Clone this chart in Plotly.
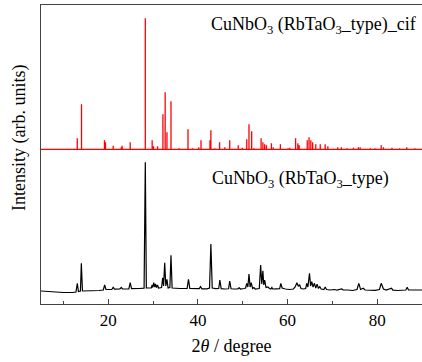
import plotly.graph_objects as go

# ---- reference (cif) stick pattern: 2theta positions and intensities (arb.) ----
cif_2theta = [13.09, 14.04, 19.16, 19.38, 21.1, 22.9, 23.1, 24.9, 28.27, 29.8, 30.1, 31.0,
              32.2, 32.7, 33.1, 34.0, 35.8, 37.8, 38.8, 40.2, 40.7, 42.7, 42.9, 43.75,
              44.85, 46.0, 47.1, 49.0, 49.9, 50.9, 51.4, 52.0, 52.5, 54.1, 54.5, 54.9,
              55.3, 56.4, 56.8, 58.4, 60.1, 60.5, 61.8, 62.3, 62.6, 64.4, 64.8, 65.2,
              65.6, 66.3, 67.3, 68.4, 69.0, 71.2, 72.0, 73.3, 74.7, 75.8, 76.2, 78.5,
              79.5, 80.9, 81.4, 83.3, 85.0, 86.6, 88.4]
cif_intensity = [11, 45, 9, 7, 3.5, 2, 3.5, 7, 131, 9, 3, 3,
                 35, 57, 17, 48, 1, 20, 1, 2, 9, 9, 19, 1,
                 7, 2, 9, 4, 1.5, 10, 25, 18, 1, 11, 7, 5,
                 4, 6, 2, 5, 1, 1.5, 11, 6, 4, 9, 12, 9,
                 7, 5, 5, 5, 3, 2, 2, 1, 1.5, 2, 2, 1,
                 1, 4, 2, 1.5, 1, 2, 1]
cif_offset = 154.7

# ---- measured pattern ----
exp_2theta = [5.0, 6.5, 8.0, 10.0, 12.0, 12.8, 13.1, 13.35, 13.8, 14.0, 14.25, 16.0, 18.0,
              18.9, 19.2, 19.5, 20.8, 21.1, 21.4, 22.6, 22.9, 23.2, 24.6, 24.9, 25.2,
              27.0, 28.0, 28.27, 28.5, 29.6, 29.8, 29.95, 30.15, 30.35, 30.55, 30.75,
              31.0, 31.2, 31.9, 32.15, 32.35, 32.6, 32.85, 33.1, 33.35, 33.75, 34.0,
              34.25, 35.0, 36.0, 37.6, 37.9, 38.2, 39.0, 40.3, 40.6, 40.9, 42.0, 42.6,
              42.9, 43.2, 44.0, 44.65, 44.9, 45.2, 46.0, 46.85, 47.1, 47.4, 48.0, 48.9,
              49.2, 49.5, 50.3, 50.65, 50.9, 51.15, 51.4, 51.65, 51.9, 52.2, 52.5, 52.8,
              53.7, 54.0, 54.25, 54.5, 54.7, 54.9, 55.2, 55.6, 56.0, 56.3, 56.5, 56.7,
              57.5, 58.25, 58.5, 58.8, 59.5, 60.5, 61.3, 61.7, 62.1, 62.4, 62.7, 63.0,
              63.5, 64.05, 64.3, 64.55, 64.9, 65.15, 65.4, 65.7, 66.0, 66.3, 66.6, 66.9,
              67.2, 67.5, 68.1, 68.4, 68.7, 69.5, 70.5, 71.0, 72.1, 72.4, 73.5, 74.5,
              75.5, 75.9, 76.3, 76.9, 77.3, 78.5, 79.5, 80.5, 80.9, 81.4, 82.0, 83.2,
              83.5, 84.5, 85.5, 86.4, 86.7, 87.0, 88.5, 90.0]
exp_intensity = [13, 12.5, 12, 11.5, 11.5, 12, 20.7, 12.5, 13, 40.7, 13, 13, 13.5,
                 14, 19, 14.5, 14.5, 16.7, 14.8, 15, 16.5, 15, 15.2, 21.3, 15.3,
                 15.5, 15.8, 141.7, 16, 16, 19, 16.5, 21.3, 17, 20, 16.5,
                 19, 16, 16.5, 26.3, 18, 41.3, 18, 24.7, 16, 16.5, 48.7,
                 16, 15.5, 15.5, 15.5, 24.7, 15.5, 15.2, 15.3, 17.3, 15.2, 15.2, 16,
                 60, 16, 15.3, 15.5, 24, 15.3, 15, 15.2, 23, 15.2, 15, 15.2,
                 16.3, 15, 15.5, 16, 20.7, 17, 30, 17, 21.3, 15.5, 16.5, 15,
                 15.5, 39, 20, 33.3, 19, 24, 16.5, 17, 15.5, 15, 16.5, 15,
                 15.2, 15.3, 20.7, 16, 15, 14.5, 15, 17, 21.3, 18, 19, 15.5,
                 15, 15.5, 20.7, 17, 30.7, 18, 22.3, 17, 20.7, 16, 19.7, 15.5,
                 17.3, 15, 14.5, 17, 14.5, 14, 14.5, 13.8, 15, 14, 14, 13.5,
                 14.5, 20.7, 14.5, 15.7, 14, 14, 13.7, 14.5, 20.7, 15, 14, 15.7,
                 13.8, 13.5, 14, 14, 16.7, 14, 14, 14]

x_range = [5, 90]
x_ticks = [20, 40, 60, 80]
x_minor = [10, 30, 50, 70, 90]

# build stick line for cif pattern
sx, sy = [x_range[0]], [cif_offset]
for p, h in zip(cif_2theta, cif_intensity):
    sx += [p, p, p]
    sy += [cif_offset, cif_offset + h, cif_offset]
sx.append(x_range[1])
sy.append(cif_offset)

fig = go.Figure()
fig.add_trace(go.Scatter(x=sx, y=sy, mode="lines",
                         line=dict(color="#ff0000", width=1.3), showlegend=False))
fig.add_trace(go.Scatter(x=exp_2theta, y=exp_intensity, mode="lines",
                         line=dict(color="#000000", width=1.2), showlegend=False))

font = "Liberation Serif"
fig.update_layout(
    width=422, height=362,
    margin=dict(l=41, r=0, t=5, b=58),
    paper_bgcolor="white", plot_bgcolor="white",
    font=dict(family=font, size=17, color="#000"),
    xaxis=dict(range=x_range, tickvals=x_ticks, ticks="inside", ticklen=5,
               tickcolor="#444", tickwidth=1,
               minor=dict(tickvals=x_minor, ticks="inside", ticklen=3,
                          tickcolor="#444", tickwidth=1),
               showgrid=False, zeroline=False, showline=True, linecolor="#444",
               linewidth=1.2, mirror=True,
               tickfont=dict(family=font, size=17, color="#000"),
               title=dict(text="2<i>θ</i> / degree", font=dict(family=font, size=18),
                          standoff=10)),
    yaxis=dict(range=[0, 299], showticklabels=False, ticks="", showgrid=False,
               zeroline=False, showline=True, linecolor="#444", linewidth=1.2),
    annotations=[
        dict(text="CuNbO<sub>3</sub> (RbTaO<sub>3</sub>_type)_cif", xref="paper", yref="paper",
             x=0.99, y=0.93, xanchor="right", yanchor="middle", showarrow=False,
             font=dict(family=font, size=18, color="#000")),
        dict(text="CuNbO<sub>3</sub> (RbTaO<sub>3</sub>_type)", xref="paper", yref="paper",
             x=0.4436, y=0.418, xanchor="left", yanchor="middle", showarrow=False,
             font=dict(family=font, size=18, color="#000")),
        dict(text="Intensity (arb. units)", xref="paper", yref="paper",
             x=-0.0577, y=0.555, xanchor="center", yanchor="middle", textangle=-90,
             showarrow=False, font=dict(family=font, size=18, color="#000")),
    ],
)

fig.write_html("out.html", config={"displayModeBar": False},
               post_script="document.body.style.margin='0px';")
